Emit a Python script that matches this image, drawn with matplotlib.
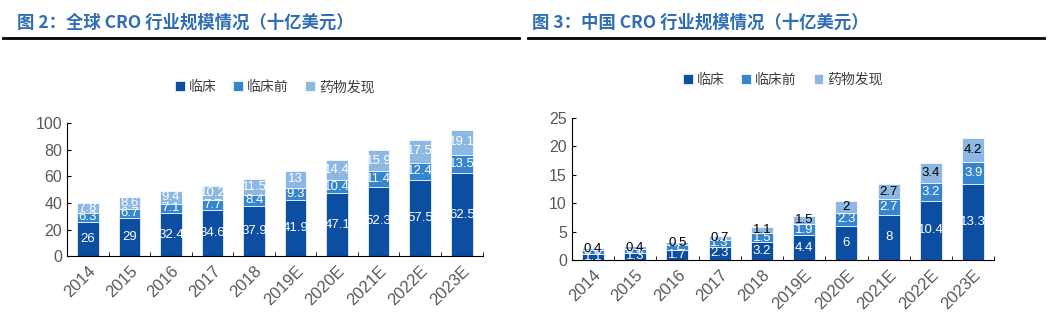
import matplotlib
matplotlib.use('Agg')
import matplotlib.pyplot as plt
import numpy as np

plt.rcParams['font.family'] = ['Noto Sans CJK SC', 'DejaVu Sans']

years = ['2014', '2015', '2016', '2017', '2018', '2019E', '2020E', '2021E', '2022E', '2023E']
series_names = ['临床', '临床前', '药物发现']

global_clinical = [26, 29, 32.4, 34.6, 37.9, 41.9, 47.1, 52.3, 57.5, 62.5]
global_preclinical = [6.3, 6.7, 7.1, 7.7, 8.4, 9.3, 10.4, 11.4, 12.4, 13.5]
global_discovery = [7.8, 8.6, 9.4, 10.2, 11.5, 13, 14.4, 15.9, 17.5, 19.1]

china_clinical = [1.1, 1.3, 1.7, 2.3, 3.2, 4.4, 6, 8, 10.4, 13.3]
china_preclinical = [0.6, 0.7, 1.0, 1.3, 1.5, 1.9, 2.3, 2.7, 3.2, 3.9]
china_discovery = [0.4, 0.4, 0.5, 0.7, 1.1, 1.5, 2, 2.7, 3.4, 4.2]

colors = ['#0B4EA2', '#3585CF', '#8DB8E3']
title_color = '#2F6DB5'
tick_color = '#595959'
num_font = 'Liberation Sans'

fig = plt.figure(figsize=(10.49, 3.23), dpi=100)


def draw_panel(ax, data, ymax, ystep, label_colors, leg_y):
    x = np.arange(len(years))
    bottom = np.zeros(len(years))
    handles = []
    for vals, col, name, lc in zip(data, colors, series_names, label_colors):
        bars = ax.bar(x, vals, 0.52, bottom=bottom, color=col, edgecolor='white',
                      linewidth=0.5, label=name)
        handles.append(bars)
        for xi, b, v in zip(x, bottom, vals):
            ax.text(xi, b + v / 2, '{:g}'.format(v), ha='center', va='center',
                    fontsize=9.5, color=lc, family=num_font)
        bottom = bottom + np.array(vals)
    ax.set_xlim(-0.5, len(years) - 0.5)
    ax.set_ylim(0, ymax)
    ax.set_yticks(np.arange(0, ymax + 0.1, ystep))
    ax.set_xticks(x)
    ax.set_xticklabels(years, rotation=45, ha='right', rotation_mode='anchor',
                       color=tick_color, fontsize=12, family=num_font)
    ax.set_xticks(np.arange(-0.5, len(years)), minor=True)
    ax.tick_params(axis='x', which='major', length=0, pad=5)
    ax.tick_params(axis='x', which='minor', direction='in', length=3)
    ax.tick_params(axis='y', direction='in', length=3, labelsize=11.5,
                   labelcolor=tick_color)
    for lbl in ax.get_yticklabels():
        lbl.set_family(num_font)
    ax.spines['top'].set_visible(False)
    ax.spines['right'].set_visible(False)
    ax.spines['left'].set_color('black')
    ax.spines['bottom'].set_color('black')
    ax.legend(handles, series_names, loc='center', bbox_to_anchor=(0.5, leg_y),
              ncol=3, frameon=False, fontsize=10, handlelength=0.7,
              handleheight=0.7, handletextpad=0.3, columnspacing=1.2,
              labelcolor='#404040')


ax1 = fig.add_axes([0.064, 0.207, 0.396, 0.412])
draw_panel(ax1, [global_clinical, global_preclinical, global_discovery], 100, 20,
           ['white', 'white', 'white'], 1.27)

ax2 = fig.add_axes([0.545, 0.195, 0.403, 0.44])
draw_panel(ax2, [china_clinical, china_preclinical, china_discovery], 25, 5,
           ['white', 'white', 'black'], 1.27)

fig.text(0.016, 0.93, '图 2：全球 CRO 行业规模情况（十亿美元）', color=title_color,
         fontsize=12.5, fontweight='bold', va='center')
fig.text(0.507, 0.93, '图 3：中国 CRO 行业规模情况（十亿美元）', color=title_color,
         fontsize=12.5, fontweight='bold', va='center')
fig.add_artist(plt.Line2D([0.003, 0.495], [0.882, 0.882], color='black', lw=2))
fig.add_artist(plt.Line2D([0.503, 0.995], [0.882, 0.882], color='black', lw=2))

fig.savefig('out.png', dpi=100)
